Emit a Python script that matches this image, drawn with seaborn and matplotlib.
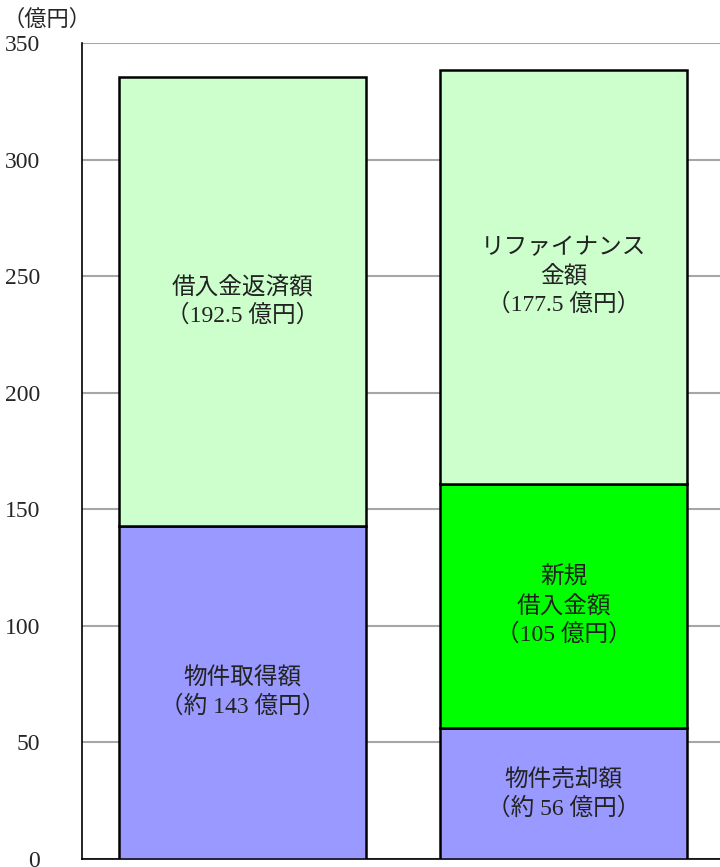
import matplotlib
matplotlib.use('Agg')
import matplotlib.pyplot as plt
import seaborn as sns

# Categories (two stacked columns)
columns = ['資金使途', '資金調達']

# Segments, bottom to top in each column
seg_column = ['資金使途', '資金使途', '資金調達', '資金調達', '資金調達']
seg_value = [143, 192.5, 56, 105, 177.5]
seg_kind = ['物件', '借入', '物件', '新規', '借入']
seg_label = ['物件取得額\n（約 143 億円）',
             '借入金返済額\n（192.5 億円）',
             '物件売却額\n（約 56 億円）',
             '新規\n借入金額\n（105 億円）',
             'リファイナンス\n金額\n（177.5 億円）']

y_ticks = [0, 50, 100, 150, 200, 250, 300, 350]

kind_colors = {'物件': '#9999ff', '新規': '#00ff00', '借入': '#ccffcc'}

sns.set_style('white')
fonts = ['Liberation Serif', 'Noto Sans CJK JP']
plt.rcParams['font.family'] = fonts

fig = plt.figure(figsize=(7.2, 8.67), dpi=100)
ax = fig.add_axes([82 / 720, 8 / 867, 642 / 720, 816 / 867])

# Stack the segments
bottoms = {c: 0 for c in columns}
for col, val, kind, label in zip(seg_column, seg_value, seg_kind, seg_label):
    base = bottoms[col]
    sns.barplot(x=[col], y=[val], order=columns, bottom=base,
                color=kind_colors[kind], saturation=1, width=0.77,
                edgecolor='black', linewidth=1.8, ax=ax, zorder=3)
    ax.text(columns.index(col), base + val / 2, label, ha='center',
            va='center', fontsize=17, linespacing=1.35, color='#222222',
            zorder=4)
    bottoms[col] = base + val

ax.set_xlim(-0.5, 1.5)
ax.set_ylim(0, 350)
ax.set_yticks(y_ticks)
ax.set_yticklabels([str(t) for t in y_ticks], fontsize=17)
ax.tick_params(axis='y', length=0, pad=30)
ax.set_xticks([])
ax.set_xlabel('')
ax.set_ylabel('')
ax.yaxis.grid(True, color='#a6a6a6', linewidth=1.5, zorder=0)
ax.set_axisbelow(True)
for side in ['top', 'right']:
    ax.spines[side].set_visible(False)
for side in ['left', 'bottom']:
    ax.spines[side].set_color('black')
    ax.spines[side].set_linewidth(1.2)

fig.text(3 / 720, 1 - 20 / 867, '（億円）', fontsize=16, va='center',
         ha='left')

fig.savefig('out.png', dpi=100)
